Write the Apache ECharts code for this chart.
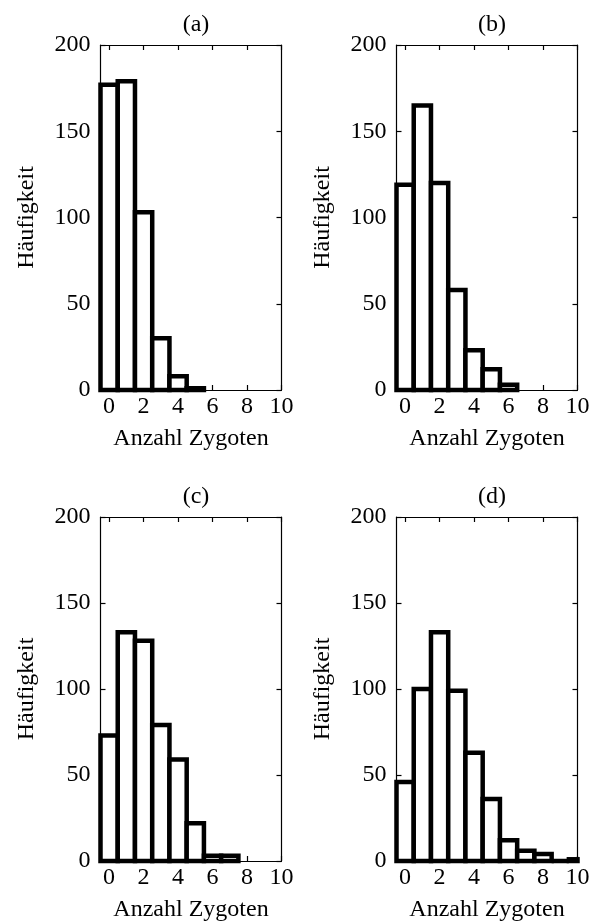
<!DOCTYPE html>
<html>
<head>
<meta charset="utf-8">
<script src="https://cdn.jsdelivr.net/npm/echarts@6/dist/echarts.min.js"></script>
<style>
html,body{margin:0;padding:0;background:#fff;}
#chart{width:593px;height:923px;}
</style>
</head>
<body>
<div id="chart"></div>
<script>
// ---- data ----
var panelTitles = ['(a)', '(b)', '(c)', '(d)'];
var xTickValues = [0, 2, 4, 6, 8, 10];
var yTickValues = [0, 50, 100, 150, 200];
var xAxisName = 'Anzahl Zygoten';
var yAxisName = 'Häufigkeit';
var countsA = [177, 179, 103, 30, 8, 1];
var countsB = [119, 165, 120, 58, 23, 12, 3];
var countsC = [73, 133, 128, 79, 59, 22, 3, 3];
var countsD = [46, 100, 133, 99, 63, 36, 12, 6, 4, 0, 1];
var allCounts = [countsA, countsB, countsC, countsD];

// ---- layout ----
var FONT = 'Liberation Serif, Times New Roman, serif';
var FS = 24;
var XMIN = -0.5, XMAX = 10, YMIN = 0, YMAX = 200;
var grids = [
  {left: 100.5, top: 45, width: 181, height: 345},
  {left: 396.5, top: 45, width: 181, height: 345},
  {left: 100.5, top: 517, width: 181, height: 345},
  {left: 396.5, top: 517, width: 181, height: 345}
];

var option = {
  animation: false,
  backgroundColor: '#ffffff',
  title: [],
  grid: [],
  xAxis: [],
  yAxis: [],
  series: []
};

var lineStyle = {color: '#000', width: 1.2};

grids.forEach(function (g, i) {
  option.grid.push({left: g.left, top: g.top, width: g.width, height: g.height, containLabel: false});
  option.title.push({
    text: panelTitles[i],
    left: g.left + g.width / 2,
    top: g.top - 37,
    textAlign: 'center',
    textStyle: {fontFamily: FONT, fontSize: FS, fontWeight: 'normal', color: '#000'}
  });
  // bottom x axis
  option.xAxis.push({
    type: 'value', gridIndex: i, position: 'bottom', min: XMIN, max: XMAX,
    name: xAxisName, nameLocation: 'middle', nameGap: 37,
    nameTextStyle: {fontFamily: FONT, fontSize: FS, color: '#000'},
    axisLine: {show: true, onZero: false, lineStyle: lineStyle},
    axisTick: {show: true, inside: true, length: 5, customValues: xTickValues, lineStyle: lineStyle},
    axisLabel: {show: true, customValues: xTickValues, margin: 5, fontFamily: FONT, fontSize: FS, color: '#000'},
    splitLine: {show: false}
  });
  // top mirror x axis
  option.xAxis.push({
    type: 'value', gridIndex: i, position: 'top', min: XMIN, max: XMAX,
    axisLine: {show: true, onZero: false, lineStyle: lineStyle},
    axisTick: {show: true, inside: true, length: 5, customValues: xTickValues, lineStyle: lineStyle},
    axisLabel: {show: false},
    splitLine: {show: false}
  });
  // left y axis
  option.yAxis.push({
    type: 'value', gridIndex: i, position: 'left', min: YMIN, max: YMAX, interval: 50,
    name: yAxisName, nameLocation: 'middle', nameGap: 62,
    nameTextStyle: {fontFamily: FONT, fontSize: FS, color: '#000'},
    axisLine: {show: true, onZero: false, lineStyle: lineStyle},
    axisTick: {show: true, inside: true, length: 5, lineStyle: lineStyle},
    axisLabel: {show: true, margin: 10, fontFamily: FONT, fontSize: FS, color: '#000'},
    splitLine: {show: false}
  });
  // right mirror y axis
  option.yAxis.push({
    type: 'value', gridIndex: i, position: 'right', min: YMIN, max: YMAX, interval: 50,
    axisLine: {show: true, onZero: false, lineStyle: lineStyle},
    axisTick: {show: true, inside: true, length: 5, lineStyle: lineStyle},
    axisLabel: {show: false},
    splitLine: {show: false}
  });

  var data = allCounts[i].map(function (v, k) { return [k, v]; });
  option.series.push({
    type: 'custom',
    xAxisIndex: i * 2,
    yAxisIndex: i * 2,
    clip: false,
    z: 5,
    data: data,
    renderItem: function (params, api) {
      var x = api.value(0), y = api.value(1);
      var x0 = Math.max(x - 0.5, XMIN), x1 = Math.min(x + 0.5, XMAX);
      var p0 = api.coord([x0, y]);
      var p1 = api.coord([x1, 0]);
      return {
        type: 'rect',
        shape: {x: p0[0], y: p0[1], width: p1[0] - p0[0], height: p1[1] - p0[1]},
        style: {fill: '#ffffff', stroke: '#000000', lineWidth: 4.5}
      };
    }
  });
});

var chart = echarts.init(document.getElementById('chart'), null, {renderer: 'canvas'});
chart.setOption(option);
</script>
</body>
</html>
